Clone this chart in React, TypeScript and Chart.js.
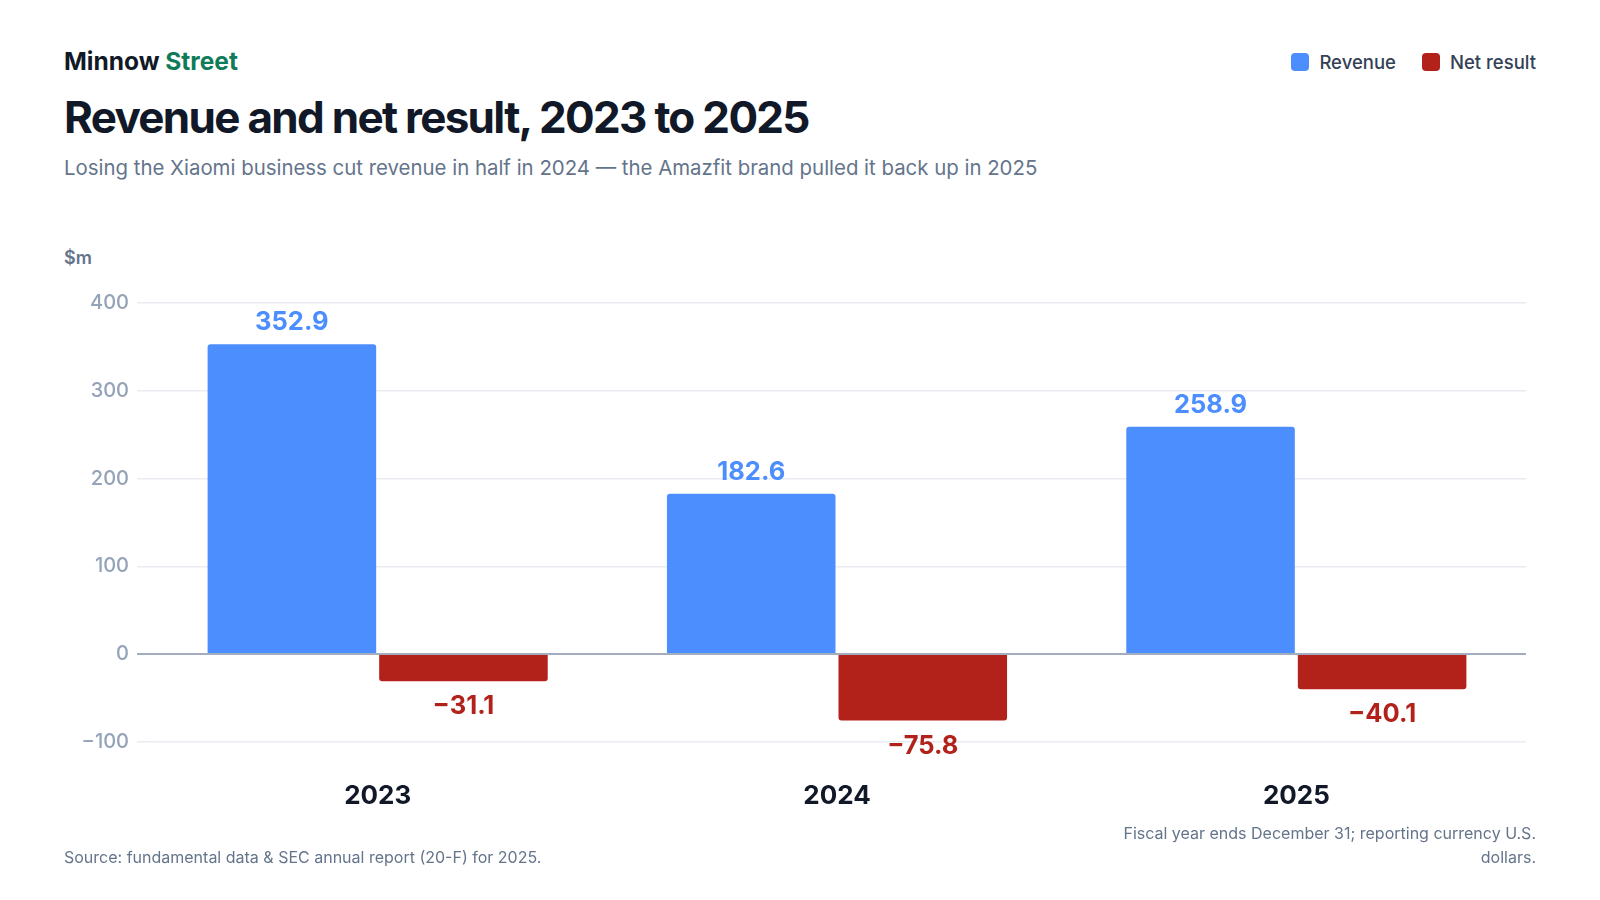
import { useEffect, useRef } from "react"
import { Chart, registerables } from "chart.js"

Chart.register(...registerables)

const years = ["2023", "2024", "2025"]
const revenue = [352.9, 182.6, 258.9]
const netResult = [-31.1, -75.8, -40.1]
const yTicks = [-100, 0, 100, 200, 300, 400]

const BLUE = "#4d8eff"
const RED = "#b2221a"
const FONT = "Inter, 'Noto Sans', sans-serif"

const fmt = (v: number) => (v < 0 ? "\u2212" + Math.abs(v).toFixed(1) : v.toFixed(1))

// value labels above / below each bar
const valueLabels = {
  id: "valueLabels",
  afterDatasetsDraw(chart: any) {
    const ctx = chart.ctx
    ctx.save()
    ctx.font = `700 25.5px ${FONT}`
    ctx.textAlign = "center"
    ctx.textBaseline = "alphabetic"
    chart.data.datasets.forEach((ds: any, i: number) => {
      const meta = chart.getDatasetMeta(i)
      meta.data.forEach((bar: any, j: number) => {
        const v = ds.data[j]
        ctx.fillStyle = ds.backgroundColor
        if (v >= 0) ctx.fillText(fmt(v), bar.x, bar.y - 14)
        else ctx.fillText(fmt(v), bar.x, bar.y + 33)
      })
    })
    ctx.restore()
  },
}

export default function App() {
  const canvasRef = useRef<HTMLCanvasElement>(null)

  useEffect(() => {
    document.body.style.margin = "0"
    if (!canvasRef.current) return
    const chart = new Chart(canvasRef.current, {
      type: "bar",
      data: {
        labels: years,
        datasets: [
          {
            label: "Revenue",
            data: revenue,
            backgroundColor: BLUE,
            borderRadius: 3,
            borderSkipped: "start",
            categoryPercentage: 0.747,
            barPercentage: 0.9825,
          },
          {
            label: "Net result",
            data: netResult,
            backgroundColor: RED,
            borderRadius: 3,
            borderSkipped: "start",
            categoryPercentage: 0.747,
            barPercentage: 0.9825,
          },
        ],
      },
      options: {
        animation: false,
        responsive: true,
        maintainAspectRatio: false,
        layout: { padding: { top: 23, right: 10, bottom: 0, left: 0 } },
        plugins: {
          legend: { display: false },
          tooltip: { enabled: false },
        },
        scales: {
          x: {
            grid: { display: false, drawTicks: false },
            border: { display: false },
            ticks: {
              color: "#111827",
              font: { family: FONT, size: 26, weight: "bold" },
              padding: 39,
            },
          },
          y: {
            min: -100,
            max: 400,
            afterFit: (scale: any) => {
              scale.width = 84
            },
            afterBuildTicks: (scale: any) => {
              scale.ticks = yTicks.map((v) => ({ value: v }))
            },
            border: { display: false },
            grid: {
              color: (c: any) => (c.tick && c.tick.value === 0 ? "#a3adbf" : "#e9ecf1"),
              lineWidth: (c: any) => (c.tick && c.tick.value === 0 ? 2 : 1.5),
              tickLength: 11,
            },
            ticks: {
              color: "#94a3b8",
              font: { family: FONT, size: 20, weight: 500 },
              padding: 8,
              callback: (v: any) => fmt(Number(v)).replace(".0", ""),
            },
          },
        },
      },
      plugins: [valueLabels],
    })
    return () => chart.destroy()
  }, [])

  const legendItem = (color: string, text: string) => (
    <div style={{ display: "flex", alignItems: "center", gap: 10 }}>
      <span style={{ width: 18, height: 18, borderRadius: 4, background: color, display: "inline-block" }} />
      <span>{text}</span>
    </div>
  )

  return (
    <div
      style={{
        position: "relative",
        width: 1600,
        height: 900,
        background: "#fff",
        fontFamily: FONT,
        overflow: "hidden",
      }}
    >
      <div
        style={{
          position: "absolute",
          left: 64,
          right: 64,
          top: 47,
          display: "flex",
          justifyContent: "space-between",
          alignItems: "center",
        }}
      >
        <div style={{ fontSize: 24.5, fontWeight: 700, lineHeight: 1.2, color: "#111827" }}>
          Minnow <span style={{ color: "#0f7b58" }}>Street</span>
        </div>
        <div style={{ display: "flex", gap: 26, fontSize: 18.5, fontWeight: 500, color: "#334155" }}>
          {legendItem(BLUE, "Revenue")}
          {legendItem(RED, "Net result")}
        </div>
      </div>

      <div
        style={{
          position: "absolute",
          left: 64,
          top: 92,
          fontSize: 44,
          fontWeight: 700,
          lineHeight: 1.15,
          letterSpacing: -1.7,
          color: "#111827",
        }}
      >
        Revenue and net result, 2023 to 2025
      </div>
      <div
        style={{
          position: "absolute",
          left: 64,
          top: 154,
          fontSize: 20.4,
          lineHeight: 1.4,
          color: "#64748b",
        }}
      >
        Losing the Xiaomi business cut revenue in half in 2024 — the Amazfit brand pulled it back up in 2025
      </div>

      <div
        style={{
          position: "absolute",
          left: 64,
          top: 247,
          fontSize: 18,
          fontWeight: 600,
          color: "#64748b",
        }}
      >
        $m
      </div>

      <div style={{ position: "absolute", left: 64, top: 280, width: 1472, height: 571 }}>
        <canvas ref={canvasRef} />
      </div>

      <div
        style={{
          position: "absolute",
          left: 64,
          right: 64,
          top: 821,
          display: "flex",
          justifyContent: "space-between",
          alignItems: "flex-end",
          fontSize: 16,
          lineHeight: "24px",
          color: "#64748b",
        }}
      >
        <div>Source: fundamental data &amp; SEC annual report (20-F) for 2025.</div>
        <div style={{ maxWidth: 440, textAlign: "right" }}>
          Fiscal year ends December 31; reporting currency U.S. dollars.
        </div>
      </div>
    </div>
  )
}
